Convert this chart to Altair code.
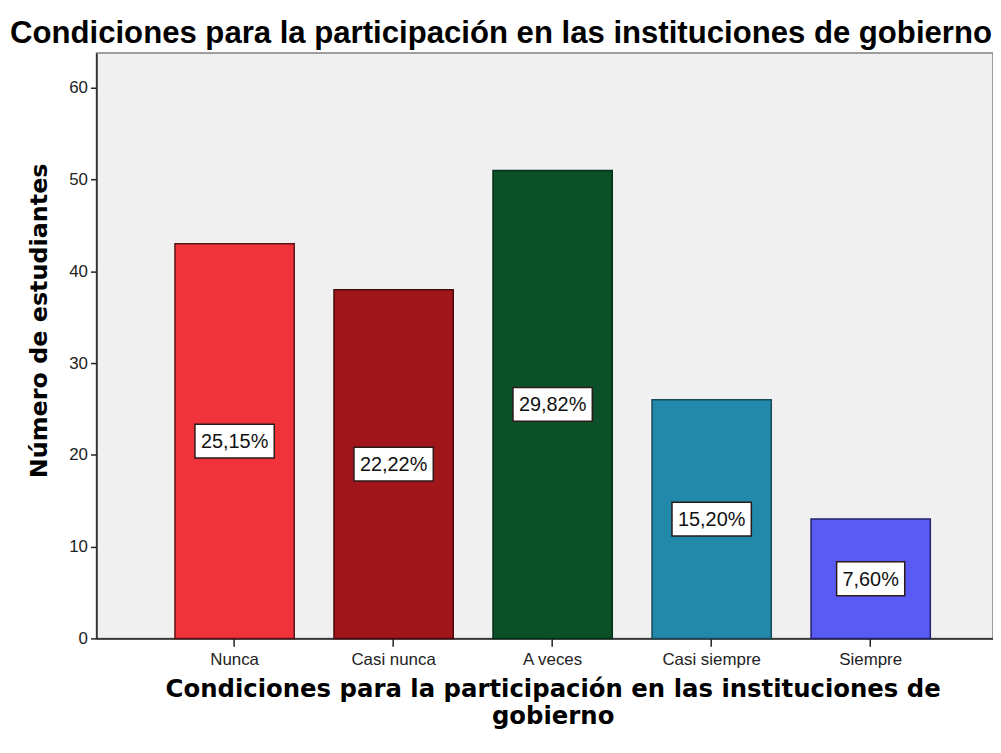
import altair as alt
import pandas as pd

categorias = ["Nunca", "Casi nunca", "A veces", "Casi siempre", "Siempre"]
estudiantes = [43, 38, 51, 26, 13]
porcentajes = ["25,15%", "22,22%", "29,82%", "15,20%", "7,60%"]
colores = ["#F0323A", "#A0161A", "#0C5028", "#2389AA", "#5A5AF5"]
bordes = ["#5A1414", "#4A0A0C", "#06301A", "#184A5A", "#22226A"]

df = pd.DataFrame({
    "cat": categorias,
    "n": estudiantes,
    "pct": porcentajes,
    "color": colores,
    "borde": bordes,
})

FONT = "Liberation Sans"
TFONT = "DejaVu Sans"

x = alt.X(
    "cat:N",
    sort=categorias,
    scale=alt.Scale(paddingInner=0.25, paddingOuter=0.444, align=0.556),
    axis=alt.Axis(
        title=["Condiciones para la participación en las instituciones de", "gobierno"],
        titleFont=TFONT, titleFontSize=24.5, titleFontWeight="bold", titleColor="#000",
        titleX=459, titleY=39, titleBaseline="top", titleAlign="center", titleLineHeight=28,
        labelFont=FONT, labelFontSize=17, labelColor="#222", labelAngle=0, labelPadding=5,
        tickSize=8, tickColor="#222", tickWidth=1.5,
        domainColor="#222", domainWidth=1.5,
    ),
)

y_scale = alt.Scale(domain=[0, 63.8], nice=False)

bars = alt.Chart(df).mark_bar(strokeWidth=1.5).encode(
    x=x,
    y=alt.Y(
        "n:Q",
        scale=y_scale,
        axis=alt.Axis(
            title="Número de estudiantes",
            titleFont=TFONT, titleFontSize=24, titleFontWeight="bold", titleColor="#000",
            titleX=-57, titleY=269, titleAngle=-90, titleAlign="center", titleBaseline="middle",
            values=[0, 10, 20, 30, 40, 50, 60],
            labelFont=FONT, labelFontSize=17, labelColor="#222", labelPadding=3,
            tickSize=6, tickColor="#222", tickWidth=1.5,
            domainColor="#222", domainWidth=1.5, grid=False,
        ),
    ),
    fill=alt.Fill("color:N", scale=None),
    stroke=alt.Stroke("borde:N", scale=None),
)

base = alt.Chart(df).transform_calculate(
    mid="datum.n / 2",
    w="length(datum.pct) * 11.3 + 12",
    path="'M' + (-datum.w / 2) + ',-17H' + (datum.w / 2) + 'V17H' + (-datum.w / 2) + 'Z'",
)

boxes = base.mark_point(size=4, filled=True, fill="white", stroke="#2a1a1a", strokeWidth=1.5, opacity=1).encode(
    x=alt.X("cat:N", sort=categorias),
    y=alt.Y("mid:Q", scale=y_scale),
    shape=alt.Shape("path:N", scale=None),
)

texts = base.mark_text(font=FONT, fontSize=20, color="#111", baseline="middle", align="center", dy=1).encode(
    x=alt.X("cat:N", sort=categorias),
    y=alt.Y("mid:Q", scale=y_scale),
    text="pct:N",
)

chart = alt.layer(bars, boxes, texts).properties(
    width=902,
    height=589,
    padding={"left": 89, "top": 43, "right": 0, "bottom": 100},
    autosize=alt.AutoSizeParams(type="none"),
    title=alt.TitleParams(
        "Condiciones para la participación en las instituciones de gobierno",
        font=FONT, fontSize=31.3, fontWeight="bold", color="#000",
        anchor="middle", dx=-44, dy=35, offset=7, baseline="bottom",
    ),
    background="white",
).configure_view(
    fill="#F0F0F0", stroke="#808080", strokeWidth=1.5,
)

chart.save("out.html", embed_options={"renderer": "svg", "actions": False})
